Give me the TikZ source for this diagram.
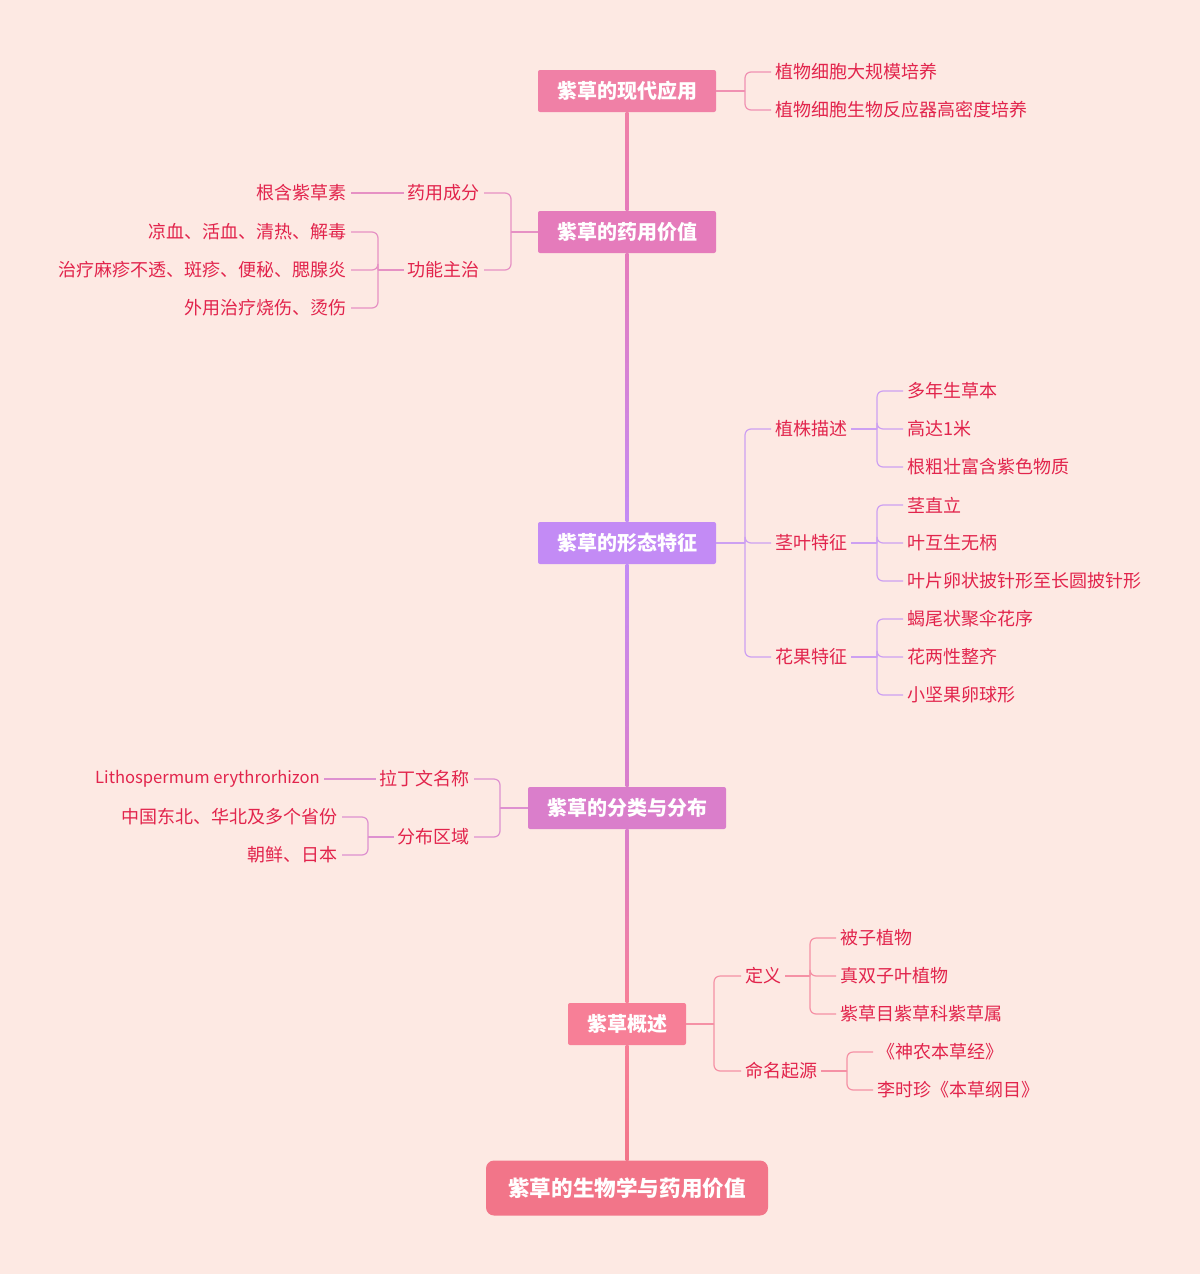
\documentclass[tikz,border=0pt]{standalone}
\usepackage{fontspec}
\newfontfamily\cjk{Noto Sans CJK SC}
\usetikzlibrary{calc}
\definecolor{bgpink}{RGB}{253,233,227}
\definecolor{txtred}{RGB}{226,36,76}
\definecolor{cApp}{RGB}{240,128,166}
\definecolor{cMed}{RGB}{229,123,187}
\definecolor{cMor}{RGB}{195,139,245}
\definecolor{cCls}{RGB}{218,126,203}
\definecolor{cOvw}{RGB}{247,127,151}
\definecolor{cRoot}{RGB}{242,117,137}
\definecolor{lApp}{RGB}{240,145,178}
\definecolor{lMed}{RGB}{230,145,196}
\definecolor{lMor}{RGB}{205,160,242}
\definecolor{lCls}{RGB}{222,145,208}
\definecolor{lOvw}{RGB}{245,145,165}
\tikzset{
  topic/.style = {
    rectangle, rounded corners=2pt,
    minimum height=42pt, minimum width=178pt,
    inner sep=0pt, text=white,
    font=\cjk\bfseries\fontsize{20}{23}\selectfont
  },
  leaf/.style  = {inner sep=4pt, text=txtred, font=\cjk\fontsize{18}{21}\selectfont},
  leafR/.style = {leaf, anchor=west},
  leafL/.style = {leaf, anchor=east},
  stub/.style  = {line width=1.6pt},
  brk/.style   = {line width=1.2pt, rounded corners=6pt}
}

\begin{document}
\begin{tikzpicture}[x=1pt, y=-1pt]
  \useasboundingbox (0,0) rectangle (1200,1274);
  \fill[bgpink] (0,0) rectangle (1200,1274);

  %% Main topics
  \node[topic, fill=cApp] (app) at (627,91)  {紫草的现代应用};
  \node[topic, fill=cMed] (med) at (627,232) {紫草的药用价值};
  \node[topic, fill=cMor] (mor) at (627,543) {紫草的形态特征};
  \node[topic, fill=cCls, minimum width=198pt] (cls) at (627,808) {紫草的分类与分布};
  \node[topic, fill=cOvw, minimum width=118pt] (ovw) at (627,1024) {紫草概述};
  \node[topic, fill=cRoot, minimum width=282pt, minimum height=55pt, rounded corners=8pt,
        font=\cjk\bfseries\fontsize{21.6}{25}\selectfont] (root) at (627,1188) {紫草的生物学与药用价值};

  %% Trunk
  \shade[top color=cApp, bottom color=cMed] ($(app.south)+(-1.5,0)$) rectangle ($(med.north)+(1.5,0)$);
  \shade[top color=cMed, bottom color=cMor] ($(med.south)+(-1.5,0)$) rectangle ($(mor.north)+(1.5,0)$);
  \shade[top color=cMor, bottom color=cCls] ($(mor.south)+(-1.5,0)$) rectangle ($(cls.north)+(1.5,0)$);
  \shade[top color=cCls, bottom color=cOvw] ($(cls.south)+(-1.5,0)$) rectangle ($(ovw.north)+(1.5,0)$);
  \shade[top color=cOvw, bottom color=cRoot] ($(ovw.south)+(-1.5,0)$) rectangle ($(root.north)+(1.5,0)$);

  %% Modern use
  \coordinate (japp) at (745,91);
  \node[leafR] (app1) at (771,72)  {植物细胞大规模培养};
  \node[leafR] (app2) at (771,110) {植物细胞生物反应器高密度培养};
  \draw[stub, lApp] (app.east) -- (japp);
  \foreach \c in {app1,app2}
    \draw[brk, lApp] (japp) |- (\c.west);

  %% Medicinal value
  \coordinate (jmed) at (511,232);
  \node[leafL] (comp) at (484,193) {药用成分};
  \node[leafL] (func) at (484,270) {功能主治};
  \draw[stub, lMed] (med.west) -- (jmed);
  \foreach \c in {comp,func}
    \draw[brk, lMed] (jmed) |- (\c.east);
  \node[leafL] (comp1) at (351,193) {根含紫草素};
  \draw[stub, lMed] (comp.west) -- (comp1.east);
  \coordinate (jfunc) at (378,270);
  \node[leafL] (func1) at (351,232) {凉血、活血、清热、解毒};
  \node[leafL] (func2) at (351,270) {治疗麻疹不透、斑疹、便秘、腮腺炎};
  \node[leafL] (func3) at (351,308) {外用治疗烧伤、烫伤};
  \draw[stub, lMed] (func.west) -- (jfunc);
  \foreach \c in {func1,func2,func3}
    \draw[brk, lMed] (jfunc) |- (\c.east);

  %% Morphology
  \coordinate (jmor) at (745,543);
  \node[leafR] (plant) at (771,429) {植株描述};
  \node[leafR] (stem)  at (771,543) {茎叶特征};
  \node[leafR] (flow)  at (771,657) {花果特征};
  \draw[stub, lMor] (mor.east) -- (jmor);
  \foreach \c in {plant,stem,flow}
    \draw[brk, lMor] (jmor) |- (\c.west);

  \coordinate (jplant) at (877,429);
  \node[leafR] (plant1) at (903,391) {多年生草本};
  \node[leafR] (plant2) at (903,429) {高达1米};
  \node[leafR] (plant3) at (903,467) {根粗壮富含紫色物质};
  \draw[stub, lMor] (plant.east) -- (jplant);
  \foreach \c in {plant1,plant2,plant3}
    \draw[brk, lMor] (jplant) |- (\c.west);

  \coordinate (jstem) at (877,543);
  \node[leafR] (stem1) at (903,505) {茎直立};
  \node[leafR] (stem2) at (903,543) {叶互生无柄};
  \node[leafR] (stem3) at (903,581) {叶片卵状披针形至长圆披针形};
  \draw[stub, lMor] (stem.east) -- (jstem);
  \foreach \c in {stem1,stem2,stem3}
    \draw[brk, lMor] (jstem) |- (\c.west);

  \coordinate (jflow) at (877,657);
  \node[leafR] (flow1) at (903,619) {蝎尾状聚伞花序};
  \node[leafR] (flow2) at (903,657) {花两性整齐};
  \node[leafR] (flow3) at (903,695) {小坚果卵球形};
  \draw[stub, lMor] (flow.east) -- (jflow);
  \foreach \c in {flow1,flow2,flow3}
    \draw[brk, lMor] (jflow) |- (\c.west);

  %% Classification and distribution
  \coordinate (jcls) at (500,808);
  \node[leafL] (latin) at (474,779) {拉丁文名称};
  \node[leafL] (area)  at (474,837) {分布区域};
  \draw[stub, lCls] (cls.west) -- (jcls);
  \foreach \c in {latin,area}
    \draw[brk, lCls] (jcls) |- (\c.east);
  \node[leafL, font=\cjk\fontsize{16.6}{20}\selectfont] (latin1) at (324,779) {Lithospermum erythrorhizon};
  \draw[stub, lCls] (latin.west) -- (latin1.east);
  \coordinate (jarea) at (368,837);
  \node[leafL] (area1) at (342,817) {中国东北、华北及多个省份};
  \node[leafL] (area2) at (342,855) {朝鲜、日本};
  \draw[stub, lCls] (area.west) -- (jarea);
  \foreach \c in {area1,area2}
    \draw[brk, lCls] (jarea) |- (\c.east);

  %% Overview
  \coordinate (jovw) at (714,1024);
  \node[leafR] (def)  at (741,976)  {定义};
  \node[leafR] (name) at (741,1071) {命名起源};
  \draw[stub, lOvw] (ovw.east) -- (jovw);
  \foreach \c in {def,name}
    \draw[brk, lOvw] (jovw) |- (\c.west);

  \coordinate (jdef) at (810,976);
  \node[leafR] (def1) at (836,938)  {被子植物};
  \node[leafR] (def2) at (836,976)  {真双子叶植物};
  \node[leafR] (def3) at (836,1014) {紫草目紫草科紫草属};
  \draw[stub, lOvw] (def.east) -- (jdef);
  \foreach \c in {def1,def2,def3}
    \draw[brk, lOvw] (jdef) |- (\c.west);

  \coordinate (jname) at (847,1071);
  \node[leafR] (name1) at (873,1052) {《神农本草经》};
  \node[leafR] (name2) at (873,1090) {李时珍《本草纲目》};
  \draw[stub, lOvw] (name.east) -- (jname);
  \foreach \c in {name1,name2}
    \draw[brk, lOvw] (jname) |- (\c.west);

\end{tikzpicture}
\end{document}
